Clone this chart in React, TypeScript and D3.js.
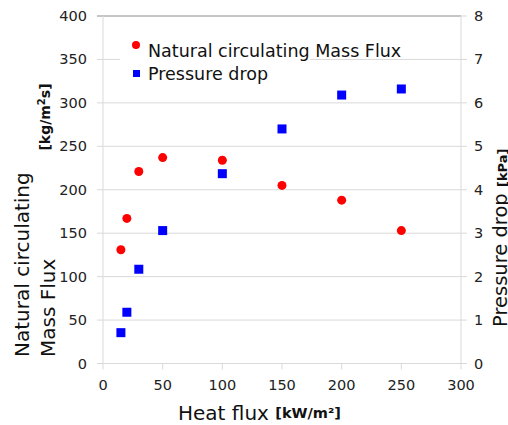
import React, { useEffect, useRef } from 'react';
import * as d3 from 'd3';

const heatFlux = [15, 20, 30, 50, 100, 150, 200, 250];
const massFlux = [131, 167, 221, 237, 234, 205, 188, 153];
const pressureDrop = [0.71, 1.18, 2.17, 3.06, 4.37, 5.4, 6.18, 6.32];
const xTicks = [0, 50, 100, 150, 200, 250, 300];
const leftTicks = [0, 50, 100, 150, 200, 250, 300, 350, 400];
const rightTicks = [0, 1, 2, 3, 4, 5, 6, 7, 8];

const FONT = '"DejaVu Sans", Verdana, sans-serif';

const App = () => {
  const chartRef = useRef(null);

  useEffect(() => {
    const width = 508;
    const height = 425;
    const left = 103, right = 461, top = 16, bottom = 363.5;

    const svg = d3.select(chartRef.current)
      .append('svg')
      .attr('width', width)
      .attr('height', height)
      .style('position', 'absolute')
      .style('left', 0)
      .style('top', 0)
      .style('font-family', FONT);

    const x = d3.scaleLinear().domain([0, 300]).range([left, right]);
    const yL = d3.scaleLinear().domain([0, 400]).range([bottom, top]);
    const yR = d3.scaleLinear().domain([0, 8]).range([bottom, top]);

    // grid
    svg.append('g')
      .selectAll('line')
      .data(leftTicks)
      .enter()
      .append('line')
      .attr('x1', left - 6)
      .attr('x2', right)
      .attr('y1', d => yL(d))
      .attr('y2', d => yL(d))
      .attr('stroke', d => (d === 400 ? '#8c8c8c' : '#d9d9d9'))
      .attr('stroke-width', 1);

    // left & right axis lines
    svg.append('line')
      .attr('x1', left).attr('x2', left)
      .attr('y1', top).attr('y2', bottom)
      .attr('stroke', '#d9d9d9');
    svg.append('line')
      .attr('x1', right).attr('x2', right)
      .attr('y1', top).attr('y2', bottom)
      .attr('stroke', '#d9d9d9');

    // right ticks
    svg.append('g')
      .selectAll('line')
      .data(rightTicks)
      .enter()
      .append('line')
      .attr('x1', right)
      .attr('x2', right + 6)
      .attr('y1', d => yR(d))
      .attr('y2', d => yR(d))
      .attr('stroke', '#d9d9d9');

    // x ticks
    svg.append('g')
      .selectAll('line')
      .data(xTicks)
      .enter()
      .append('line')
      .attr('x1', d => x(d))
      .attr('x2', d => x(d))
      .attr('y1', bottom)
      .attr('y2', bottom + 6)
      .attr('stroke', '#d9d9d9');

    // tick labels
    svg.append('g')
      .selectAll('text')
      .data(leftTicks)
      .enter()
      .append('text')
      .attr('x', 87)
      .attr('y', d => yL(d) + 5)
      .attr('text-anchor', 'end')
      .attr('font-size', 14.5)
      .attr('fill', '#222')
      .text(d => d);

    svg.append('g')
      .selectAll('text')
      .data(rightTicks)
      .enter()
      .append('text')
      .attr('x', 474)
      .attr('y', d => yR(d) + 5)
      .attr('font-size', 14.5)
      .attr('fill', '#222')
      .text(d => d);

    svg.append('g')
      .selectAll('text')
      .data(xTicks)
      .enter()
      .append('text')
      .attr('x', d => x(d))
      .attr('y', 390)
      .attr('text-anchor', 'middle')
      .attr('font-size', 14.5)
      .attr('fill', '#222')
      .text(d => d);

    // legend box (hides grid behind it)
    svg.append('rect')
      .attr('x', 120).attr('y', 32)
      .attr('width', 190).attr('height', 56)
      .attr('fill', '#fff');

    svg.append('circle')
      .attr('cx', 136).attr('cy', 45).attr('r', 4)
      .attr('fill', '#ff0000');
    svg.append('text')
      .attr('x', 148).attr('y', 57)
      .attr('font-size', 17.5).attr('fill', '#111')
      .text('Natural circulating Mass Flux');
    svg.append('rect')
      .attr('x', 133).attr('y', 70).attr('width', 7).attr('height', 7)
      .attr('fill', '#0000ff');
    svg.append('text')
      .attr('x', 148).attr('y', 80)
      .attr('font-size', 17.5).attr('fill', '#111')
      .text('Pressure drop');

    // series
    svg.append('g')
      .selectAll('circle')
      .data(heatFlux)
      .enter()
      .append('circle')
      .attr('cx', d => x(d))
      .attr('cy', (d, i) => yL(massFlux[i]))
      .attr('r', 4.5)
      .attr('fill', '#ff0000');

    svg.append('g')
      .selectAll('rect')
      .data(heatFlux)
      .enter()
      .append('rect')
      .attr('x', d => x(d) - 4.5)
      .attr('y', (d, i) => yR(pressureDrop[i]) - 4.5)
      .attr('width', 9)
      .attr('height', 9)
      .attr('fill', '#0000ff');

    // axis titles
    const lt = svg.append('text')
      .attr('transform', 'translate(29,357) rotate(-90)')
      .attr('font-size', 20).attr('fill', '#111');
    lt.append('tspan').attr('x', 0).attr('dy', 0).text('Natural circulating');
    lt.append('tspan').attr('x', 0).attr('dy', 26).text('Mass Flux');

    svg.append('text')
      .attr('transform', 'translate(50,117) rotate(-90)')
      .attr('text-anchor', 'middle')
      .attr('font-size', 14).attr('font-weight', 'bold').attr('fill', '#111')
      .html('[kg/m<tspan dy="-5" font-size="10">2</tspan><tspan dy="5">s]</tspan>');

    const rt = svg.append('text')
      .attr('transform', 'translate(507,327) rotate(-90)')
      .attr('fill', '#111');
    rt.append('tspan').attr('font-size', 19.5).text('Pressure drop ');
    rt.append('tspan').attr('font-size', 13).attr('font-weight', 'bold').text('[kPa]');

    const xt = svg.append('text')
      .attr('x', 178).attr('y', 420)
      .attr('fill', '#111');
    xt.append('tspan').attr('font-size', 20).text('Heat flux ');
    xt.append('tspan').attr('font-size', 14.5).attr('font-weight', 'bold').attr('dy', -2).text('[kW/m²]');

    return () => {
      d3.select(chartRef.current).selectAll('svg').remove();
    };
  }, []);

  return <div ref={chartRef} />;
};

export default App;
